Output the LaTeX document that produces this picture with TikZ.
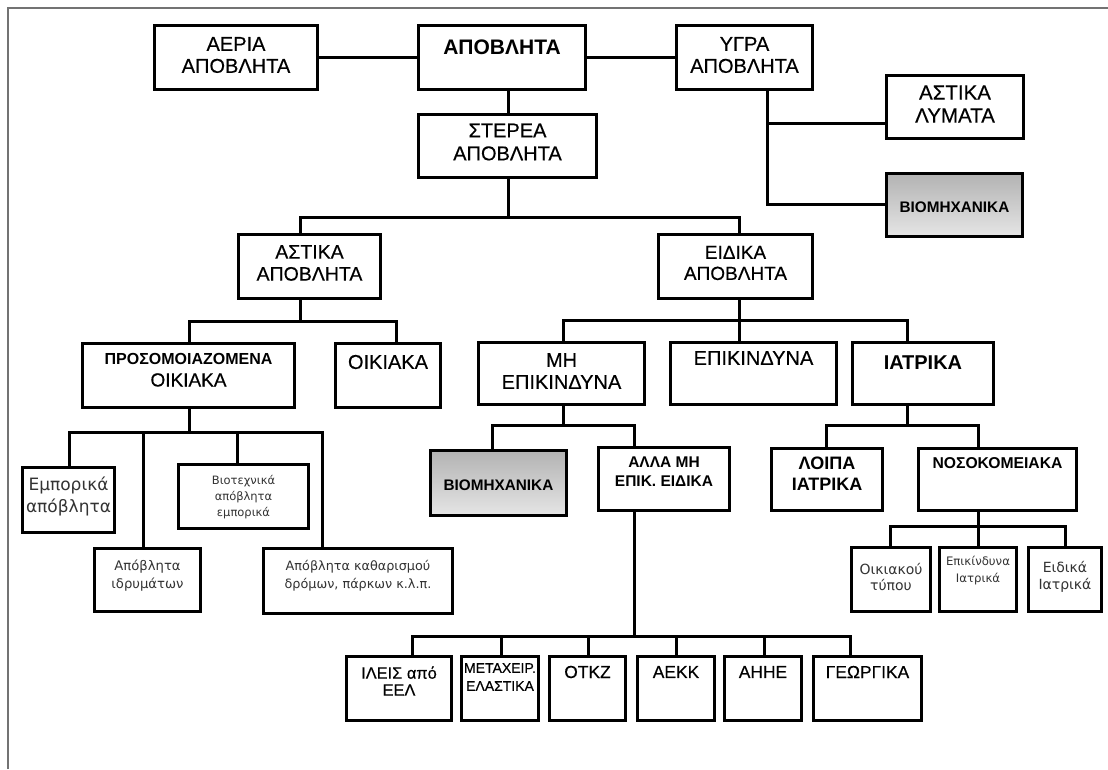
\documentclass[tikz,border=0pt]{standalone}
\usepackage{fontspec}
\setmainfont{Liberation Sans}
\newfontfamily\ucfont{Liberation Sans}[FakeBold=0.35]
\newfontfamily\lcfont{DejaVu Sans}
\newcommand{\fs}[2]{\fontsize{#1}{#2}\selectfont}
% box by its outer corners: name, x1, y1, x2, y2
\newcommand{\mkbox}[6][box]{%
  \node[#1, minimum width={(#5-#3-3)*1pt}, minimum height={(#6-#4-3)*1pt}]
    (#2) at ({(#3+#5)/2},{(#4+#6)/2}) {};}
\begin{document}
\begin{tikzpicture}[x=1pt,y=-1pt,
  box/.style={draw=black, line width=3pt, inner sep=0pt, fill=white},
  shadebox/.style={box, top color=black!30, bottom color=black!10},
  conn/.style={line width=3pt},
  lbl/.style={align=center, inner sep=0pt, text=black},
  uc/.style 2 args={lbl, font=\ucfont\fs{#1}{#2}},
  ucb/.style 2 args={lbl, font=\bfseries\fs{#1}{#2}},
  lc/.style 2 args={lbl, text=black!80, font=\lcfont\fs{#1}{#2}},
]
\useasboundingbox (0,0) rectangle (1108,769);
\draw[black!55, line width=2pt] (8,769) -- (8,8) -- (1108,8);

% boxes
\mkbox{aeria}{153}{24}{319}{91}
\mkbox{apov}{417}{24}{587}{91}
\mkbox{ygra}{675}{24}{814}{91}
\mkbox{astlym}{885}{74}{1025}{140}
\mkbox[shadebox]{biom1}{885}{172}{1024}{238}
\mkbox{stere}{417}{113}{598}{179}
\mkbox{astapo}{237}{233}{382}{300}
\mkbox{eidapo}{657}{233}{814}{300}
\mkbox{prosom}{81}{342}{296}{409}
\mkbox{oikiaka}{334}{342}{442}{409}
\mkbox{mhepik}{477}{341}{646}{406}
\mkbox{epik}{669}{341}{838}{406}
\mkbox{iatrika}{851}{341}{995}{406}
\mkbox{emp}{21}{466}{116}{534}
\mkbox{idr}{93}{547}{202}{613}
\mkbox{viot}{177}{463}{310}{530}
\mkbox{kath}{262}{547}{454}{615}
\mkbox[shadebox]{biom2}{429}{449}{568}{517}
\mkbox{alla}{597}{446}{731}{512}
\mkbox{loipa}{770}{447}{884}{512}
\mkbox{nosok}{917}{447}{1078}{512}
\mkbox{oikt}{850}{546}{932}{613}
\mkbox{epiki}{938}{546}{1018}{613}
\mkbox{eidiat}{1027}{546}{1103}{613}
\mkbox{ileis}{345}{655}{453}{722}
\mkbox{metax}{460}{655}{540}{722}
\mkbox{otkz}{548}{655}{627}{722}
\mkbox{aekk}{636}{655}{716}{722}
\mkbox{ahhe}{723}{655}{803}{722}
\mkbox{georg}{812}{655}{923}{722}

% labels
\node[uc={20}{22}] (aeria-t) at (236,55) {ΑΕΡΙΑ\\ΑΠΟΒΛΗΤΑ};
\node[ucb={21}{22}] (apov-t) at (502,47) {ΑΠΟΒΛΗΤΑ};
\node[uc={20}{22}] (ygra-t) at (744.5,55) {ΥΓΡΑ\\ΑΠΟΒΛΗΤΑ};
\node[uc={20.5}{23}] (astlym-t) at (955,104) {ΑΣΤΙΚΑ\\ΛΥΜΑΤΑ};
\node[ucb={15.3}{16}] (biom1-t) at (954.5,207) {ΒΙΟΜΗΧΑΝΙΚΑ};
\node[uc={20}{23}] (stere-t) at (507.5,142) {ΣΤΕΡΕΑ\\ΑΠΟΒΛΗΤΑ};
\node[uc={19.5}{22}] (astapo-t) at (309.5,263) {ΑΣΤΙΚΑ\\ΑΠΟΒΛΗΤΑ};
\node[uc={19}{21}] (eidapo-t) at (735.5,263) {ΕΙΔΙΚΑ\\ΑΠΟΒΛΗΤΑ};
\node[uc={19}{22}] (prosom-t) at (188.5,370)
  {{\normalfont\bfseries\fs{16}{22}ΠΡΟΣΟΜΟΙΑΖΟΜΕΝΑ}\\ΟΙΚΙΑΚΑ};
\node[uc={20}{22}] (oikiaka-t) at (388,362) {ΟΙΚΙΑΚΑ};
\node[uc={20}{22}] (mhepik-t) at (561.5,371) {ΜΗ\\ΕΠΙΚΙΝΔΥΝΑ};
\node[uc={20}{22}] (epik-t) at (753.5,358) {ΕΠΙΚΙΝΔΥΝΑ};
\node[ucb={20}{20}] (iatrika-t) at (923,363) {ΙΑΤΡΙΚΑ};
\node[lc={17}{22}] (emp-t) at (68.5,496) {Εμπορικά\\απόβλητα};
\node[lc={13.2}{18}] (idr-t) at (147.5,576) {Απόβλητα\\ιδρυμάτων};
\node[lc={11.5}{16}] (viot-t) at (243.5,497) {Βιοτεχνικά\\απόβλητα\\εμπορικά};
\node[lc={12.8}{18}] (kath-t) at (358,576) {Απόβλητα καθαρισμού\\δρόμων, πάρκων κ.λ.π.};
\node[ucb={15.3}{16}] (biom2-t) at (498.5,485) {ΒΙΟΜΗΧΑΝΙΚΑ};
\node[ucb={15.5}{19}] (alla-t) at (664,472) {ΑΛΛΑ ΜΗ\\ΕΠΙΚ. ΕΙΔΙΚΑ};
\node[ucb={18}{21}] (loipa-t) at (827,474) {ΛΟΙΠΑ\\ΙΑΤΡΙΚΑ};
\node[ucb={15.7}{17}] (nosok-t) at (997.5,463) {ΝΟΣΟΚΟΜΕΙΑΚΑ};
\node[lc={14}{16}] (oikt-t) at (891,577) {Οικιακού\\τύπου};
\node[lc={11.7}{17}] (epiki-t) at (978,571) {Επικίνδυνα\\Ιατρικά};
\node[lc={14}{17}] (eidiat-t) at (1065,577) {Ειδικά\\Ιατρικά};
\node[uc={16.4}{17}] (ileis-t) at (399,681) {ΙΛΕΙΣ από\\ΕΕΛ};
\node[uc={14}{18}] (metax-t) at (500,677) {ΜΕΤΑΧΕΙΡ.\\ΕΛΑΣΤΙΚΑ};
\node[uc={17.4}{19}] (otkz-t) at (587.5,672) {ΟΤΚΖ};
\node[uc={17.4}{19}] (aekk-t) at (676,672) {ΑΕΚΚ};
\node[uc={17.4}{19}] (ahhe-t) at (763,672) {ΑΗΗΕ};
\node[uc={17.4}{19}] (georg-t) at (867.5,672) {ΓΕΩΡΓΙΚΑ};

% connectors
\draw[conn] (aeria.east) -- (apov.west);
\draw[conn] (apov.east) -- (ygra.west);

\coordinate (s1) at (508,217);
\coordinate (s1l) at (300,217);
\coordinate (s1r) at (739,217);
\draw[conn] (apov.south -| s1) -- (stere.north -| s1);
\draw[conn] (stere.south -| s1) -- (s1);
\draw[conn] (astapo.north -| s1l) |- (s1r) -- (eidapo.north -| s1r);

\coordinate (y1) at (767,204);
\coordinate (y2) at (767,123);
\draw[conn] (ygra.south -| y1) -- (y1) -- (biom1.west |- y1);
\draw[conn] (y2) -- (astlym.west |- y2);

\coordinate (a1) at (300,321);
\coordinate (a1l) at (189,321);
\coordinate (a1r) at (396,321);
\draw[conn] (astapo.south -| a1) -- (a1);
\draw[conn] (prosom.north -| a1l) |- (a1r) -- (oikiaka.north -| a1r);

\coordinate (e1) at (739,320);
\coordinate (e1l) at (563,320);
\coordinate (e1r) at (907,320);
\draw[conn] (eidapo.south -| e1) -- (epik.north -| e1);
\draw[conn] (mhepik.north -| e1l) |- (e1r) -- (iatrika.north -| e1r);

\coordinate (p1) at (189,432);
\coordinate (p1a) at (69,432);
\coordinate (p1b) at (143,432);
\coordinate (p1c) at (237,432);
\coordinate (p1d) at (322,432);
\draw[conn] (prosom.south -| p1) -- (p1);
\draw[conn] (emp.north -| p1a) |- (p1d) -- (kath.north -| p1d);
\draw[conn] (p1b) -- (idr.north -| p1b);
\draw[conn] (p1c) -- (viot.north -| p1c);

\coordinate (m1) at (563,425);
\coordinate (m1l) at (492,425);
\coordinate (m1r) at (634,425);
\draw[conn] (mhepik.south -| m1) -- (m1);
\draw[conn] (biom2.north -| m1l) |- (m1r) -- (alla.north -| m1r);

\coordinate (b1) at (634,636);
\coordinate (b1a) at (412,636);
\coordinate (b1b) at (501,636);
\coordinate (b1c) at (588,636);
\coordinate (b1d) at (676,636);
\coordinate (b1e) at (764,636);
\coordinate (b1f) at (850,636);
\draw[conn] (alla.south -| b1) -- (b1);
\draw[conn] (ileis.north -| b1a) |- (b1f) -- (georg.north -| b1f);
\draw[conn] (b1b) -- (metax.north -| b1b);
\draw[conn] (b1c) -- (otkz.north -| b1c);
\draw[conn] (b1d) -- (aekk.north -| b1d);
\draw[conn] (b1e) -- (ahhe.north -| b1e);

\coordinate (i1) at (907,425);
\coordinate (i1l) at (826,425);
\coordinate (i1r) at (978,425);
\draw[conn] (iatrika.south -| i1) -- (i1);
\draw[conn] (loipa.north -| i1l) |- (i1r) -- (nosok.north -| i1r);

\coordinate (n1) at (978,526);
\coordinate (n1l) at (890,526);
\coordinate (n1r) at (1065,526);
\draw[conn] (nosok.south -| n1) -- (epiki.north -| n1);
\draw[conn] (oikt.north -| n1l) |- (n1r) -- (eidiat.north -| n1r);
\end{tikzpicture}
\end{document}
